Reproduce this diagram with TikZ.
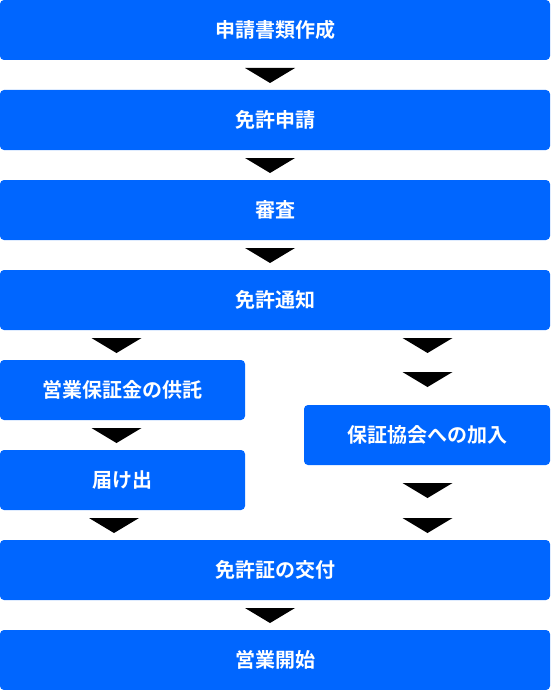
\documentclass[tikz,border=0pt]{standalone}
\usepackage{fontspec}
\setmainfont{Noto Sans CJK JP}[BoldFont={* Bold}]
\usepackage{tikz}

\definecolor{flowblue}{HTML}{0066FF}

\tikzset{
  flowbox/.style={rectangle, rounded corners=4pt, fill=flowblue, text=white,
    font=\fontsize{20pt}{24pt}\bfseries\selectfont, inner sep=0pt,
    minimum height=60pt},
  widebox/.style={flowbox, minimum width=550pt},
  halfbox/.style={flowbox, minimum width=246pt}
}

% downward marker: apex below (x,y)
\newcommand{\downmark}[2]{\fill[black] (#1-25, #2) -- (#1+25, #2) -- (#1, #2+15) -- cycle;}

\begin{document}
\begin{tikzpicture}[x=1pt, y=-1pt]
    \useasboundingbox (0,0) rectangle (550,690);
    % main column
    \node[widebox] (apply) at (275,30) {申請書類作成};
    \node[widebox] (license) at (275,120) {免許申請};
    \node[widebox] (review) at (275,210) {審査};
    \node[widebox] (notice) at (275,300) {免許通知};
    % left branch
    \node[halfbox, minimum width=245pt] (deposit) at (122.5,390) {営業保証金の供託};
    \node[halfbox, minimum width=245pt] (report) at (122.5,480) {届け出};
    % right branch
    \node[halfbox] (join) at (427,435) {保証協会への加入};
    % joined again
    \node[widebox] (issue) at (275,570) {免許証の交付};
    \node[widebox] (start) at (275,660) {営業開始};
    % markers
    \foreach \y in {68, 158, 248, 608}
      {\downmark{270}{\y}}
    \foreach \y in {338, 428}
      {\downmark{116.5}{\y}}
    \downmark{114}{518}
    \foreach \y in {338, 372, 483, 518}
      {\downmark{427.5}{\y}}
\end{tikzpicture}
\end{document}
